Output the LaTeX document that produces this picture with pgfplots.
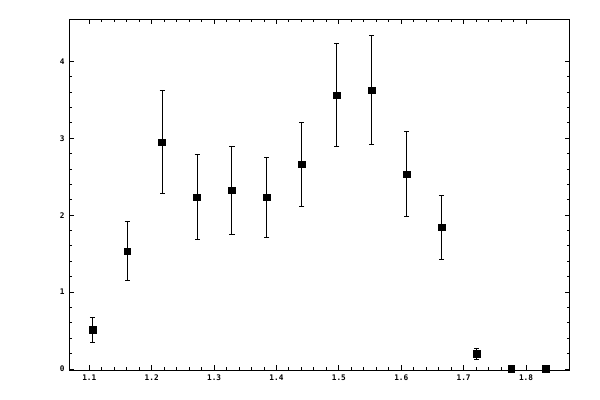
\documentclass[border=0pt]{standalone}
\usepackage{pgfplots}
\pgfplotsset{compat=1.18}
\usepackage{fontspec}
\setmainfont{DejaVu Sans Mono}
\begin{document}
\begin{tikzpicture}
\begin{axis}[
  name=ax,
  at={(0,0)}, anchor=south west,
  scale only axis,
  width=375.525pt, height=263.025pt,
  xmin=1.0679, xmax=1.8705,
  ymin=-0.013, ymax=4.547,
  xtick={1.1,1.2,1.3,1.4,1.5,1.6,1.7,1.8},
  ytick={0,1,2,3,4},
  minor x tick num=4,
  minor y tick num=4,
  tick align=inside,
  major tick length=3.4pt,
  minor tick length=2pt,
  tick style={black, line width=0.75pt},
  axis line style={line width=0.75pt},
  /pgf/number format/assume math mode=true,
  ticklabel style={font=\fontsize{5.8}{7}\selectfont\bfseries},
  xticklabel style={/pgf/number format/fixed, /pgf/number format/precision=1, /pgf/number format/fixed zerofill},
  clip=false,
]
\addplot[only marks, mark=square*, mark size=2.6pt, black,
  error bars/.cd, y dir=both, y explicit,
  error bar style={line width=0.75pt, black},
  error mark options={rotate=90, line width=0.75pt, mark size=1.9pt, black}]
coordinates {
  (1.1048,0.507) +- (0,0.166)
  (1.1608,1.531) +- (0,0.384)
  (1.2167,2.948) +- (0,0.670)
  (1.2727,2.233) +- (0,0.553)
  (1.3287,2.324) +- (0,0.572)
  (1.3847,2.233) +- (0,0.518)
  (1.4406,2.662) +- (0,0.546)
  (1.4966,3.559) +- (0,0.670)
  (1.5526,3.624) +- (0,0.710)
  (1.6085,2.532) +- (0,0.550)
  (1.6645,1.843) +- (0,0.416)
  (1.7205,0.195) +- (0,0.070)
  (1.7764,0.000) +- (0,0.000)
  (1.8324,0.000) +- (0,0.000)
};
\end{axis}
\pgfresetboundingbox
\path (ax.south west) ++(-51.975pt,-22.5pt) rectangle ++(450pt,300pt);
\end{tikzpicture}
\end{document}
